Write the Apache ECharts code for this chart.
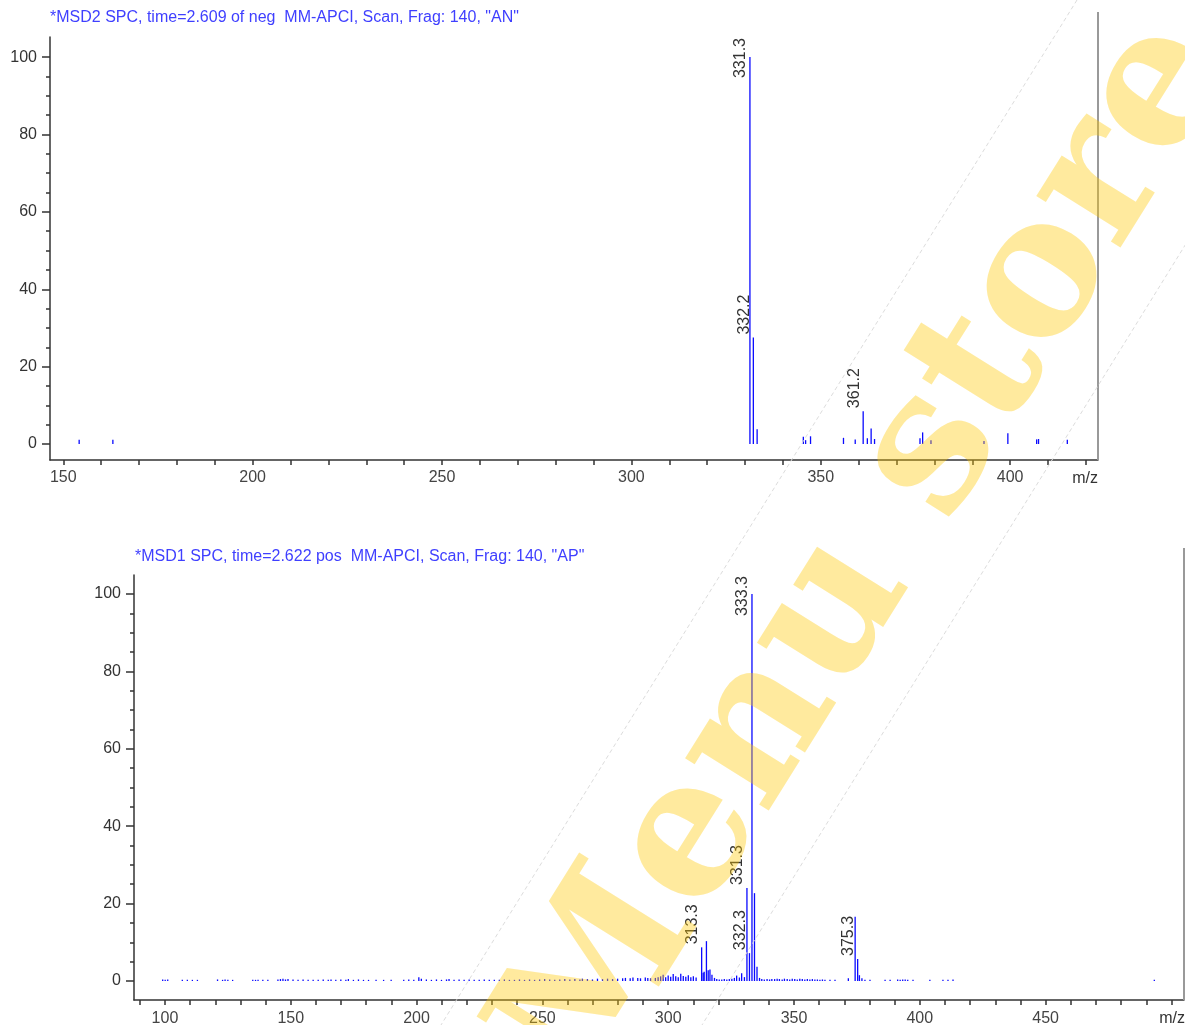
<!DOCTYPE html>
<html>
<head>
<meta charset="utf-8">
<script src="https://cdn.jsdelivr.net/npm/echarts@6/dist/echarts.min.js"></script>
<style>
html,body{margin:0;padding:0;background:#fff;}
#chart{width:1185px;height:1025px;}
</style>
</head>
<body>
<div id="chart"></div>
<script>
// ---------- Data: top spectrum (negative, MSD2) ----------
const topTitle = '*MSD2 SPC, time=2.609 of neg  MM-APCI, Scan, Frag: 140, "AN"';
const topMz    = [154.2, 163.1, 331.3, 332.2, 333.2, 345.4, 346.0, 347.3, 356.0, 359.1, 361.2, 362.3, 363.3, 364.2, 376.2, 376.9, 379.1, 393.1, 399.4, 407.0, 407.5, 415.1];
const topAbund = [1.1,   1.1,   100,   27.5,  3.8,   1.9,   1.0,   2.0,   1.6,   1.2,   8.5,   1.5,   4.0,   1.3,   1.5,   3.0,   1.0,   0.8,   2.8,   1.2,   1.3,   1.1];
const topLabeled = [331.3, 332.2, 361.2];
const topLabelText = ['331.3', '332.2', '361.2'];
const topXTicks  = [150,160,170,180,190,200,210,220,230,240,250,260,270,280,290,300,310,320,330,340,350,360,370,380,390,400,410,420];
const topXLabels = [150,200,250,300,350,400];
const topYLabels = [0,20,40,60,80,100];
const topYMinor  = [5,10,15,25,30,35,45,50,55,65,70,75,85,90,95];

// ---------- Data: bottom spectrum (positive, MSD1) ----------
const botTitle = '*MSD1 SPC, time=2.622 pos  MM-APCI, Scan, Frag: 140, "AP"';
const botMz = [
  99.1,100.1,101.1,106.9,108.9,110.9,112.9,120.9,122.9,123.9,125.0,126.9,134.9,136.0,137.0,138.9,140.9,
  144.9,145.9,146.9,147.9,148.9,150.9,152.9,154.9,156.9,158.9,160.9,162.9,164.9,166.0,167.9,169.9,171.9,172.9,174.9,176.9,178.9,180.9,183.9,186.9,189.9,
  194.9,196.9,198.9,200.9,201.9,203.9,205.9,207.9,209.9,211.9,212.9,214.9,216.9,218.9,220.9,222.9,224.9,226.9,228.9,230.9,
  232.9,234.9,236.9,238.9,240.9,242.9,244.9,246.9,248.9,250.9,252.9,254.9,256.9,258.9,260.9,262.9,264.9,265.9,267.9,269.9,271.9,273.9,275.9,277.9,279.9,
  281.9,283.0,284.9,286.0,287.9,289.0,290.9,291.9,293.0,294.9,
  296.0,297.0,298.0,299.0,300.0,301.0,302.0,303.0,304.0,305.0,306.0,307.0,308.0,309.0,310.0,311.1,
  313.3,313.9,314.3,315.2,315.9,316.6,317.4,318.4,319.3,320.3,321.3,322.3,323.3,324.3,325.3,326.3,327.2,328.3,329.2,330.3,
  331.3,332.3,333.3,334.3,335.3,336.3,337.2,338.2,339.3,340.3,341.2,342.3,343.3,344.2,345.3,346.2,347.3,348.3,349.3,350.3,
  351.3,352.3,353.3,354.3,355.3,356.3,357.3,358.3,359.3,360.3,361.3,362.3,364.3,366.3,
  371.6,374.3,375.3,376.0,377.0,378.2,380.2,386.2,388.2,391.2,392.2,393.2,394.2,395.2,397.3,404.0,409.2,411.2,413.2,493.2
];
const botAbund = [
  0.4,0.3,0.4,0.3,0.3,0.3,0.3,0.4,0.3,0.4,0.3,0.3,0.3,0.3,0.3,0.3,0.3,
  0.4,0.5,0.6,0.4,0.5,0.4,0.3,0.4,0.3,0.3,0.3,0.4,0.3,0.4,0.3,0.4,0.3,0.5,0.3,0.4,0.3,0.3,0.3,0.3,0.3,
  0.3,0.4,0.3,1.0,0.6,0.4,0.3,0.4,0.3,0.4,0.5,0.3,0.4,0.3,0.4,0.3,0.3,0.4,0.3,0.3,
  0.3,0.4,0.3,0.3,0.4,0.3,0.4,0.3,0.4,0.5,0.4,0.3,0.4,0.5,0.4,0.5,0.4,0.6,0.5,0.4,0.6,0.5,0.6,0.5,0.6,
  0.7,0.8,0.7,0.9,0.8,0.7,0.9,0.8,0.7,0.8,
  1.0,1.2,1.6,1.0,1.4,1.1,1.8,1.2,1.0,1.9,1.3,1.1,1.5,1.0,1.2,0.9,
  8.7,2.1,2.4,10.3,2.8,3.0,1.6,0.8,0.5,0.4,0.4,0.5,0.4,0.5,0.6,0.8,1.4,0.9,2.0,1.0,
  24.0,7.2,100,22.7,3.7,0.8,0.5,0.4,0.5,0.4,0.5,0.5,0.6,0.5,0.4,0.6,0.5,0.4,0.6,0.5,
  0.4,0.6,0.5,0.4,0.5,0.4,0.5,0.4,0.4,0.3,0.4,0.3,0.3,0.3,
  0.7,16.6,5.7,1.5,0.7,0.3,0.3,0.3,0.3,0.4,0.3,0.4,0.4,0.3,0.3,0.3,0.3,0.3,0.4,0.3
];
const botLabeled = [313.3, 331.3, 332.3, 333.3, 375.3];
const botLabelText = ['313.3', '331.3', '332.3', '333.3', '375.3'];
const botXTicks  = [90,100,110,120,130,140,150,160,170,180,190,200,210,220,230,240,250,260,270,280,290,300,310,320,330,340,350,360,370,380,390,400,410,420,430,440,450,460,470,480,490,500];
const botXLabels = [100,150,200,250,300,350,400,450];
const botYLabels = [0,20,40,60,80,100];
const botYMinor  = [5,10,15,25,30,35,45,50,55,65,70,75,85,90,95];

const watermarkText = 'Menu store';
const axisName = 'm/z';

// ---------- helpers ----------
const FONT = '"Liberation Sans", Arial, Helvetica, sans-serif';
const FS = 16;
const STICK = '#0a0aff';
const measureCtx = document.createElement('canvas').getContext('2d');
measureCtx.font = FS + 'px ' + FONT;

function pairs(xs, ys) { return xs.map((x, i) => [x, ys[i]]); }
function labelPairs(lx, lt, xs, ys) {
  return lx.map((m, i) => {
    const k = xs.indexOf(m);
    return [m, ys[k], lt[i]];
  });
}

function stickRender(params, api) {
  const x = api.value(0), y = api.value(1);
  const b = api.coord([x, 0]);
  const t = api.coord([x, y]);
  return {
    type: 'line',
    shape: { x1: b[0], y1: b[1], x2: t[0], y2: t[1] },
    style: { stroke: STICK, lineWidth: 1.3 }
  };
}
function labelRender(params, api) {
  const x = api.value(0), y = api.value(1);
  const txt = params.data ? params.data[2] : String(x);
  const t = api.coord([x, y]);
  const w = measureCtx.measureText(txt).width;
  const top = params.coordSys.y;
  const anchorY = Math.max(t[1] - 3, top + w + 1);
  return {
    type: 'text',
    x: t[0] - 1,
    y: anchorY,
    rotation: Math.PI / 2,
    style: {
      text: txt, fill: '#333', font: FS + 'px ' + FONT,
      align: 'left', verticalAlign: 'bottom'
    }
  };
}

function xAxisDef(gridIndex, min, max, ticks, labels, nameGap, margin, namePad) {
  return {
    type: 'value', gridIndex, min, max,
    name: axisName, nameLocation: 'end', nameGap,
    nameTextStyle: { color: '#333', fontSize: FS, fontFamily: FONT, align: 'right', verticalAlign: 'top', padding: [namePad, 0, 0, 0] },
    splitLine: { show: false },
    axisLine: { onZero: false, lineStyle: { color: '#333', width: 1.5 } },
    axisTick: { customValues: ticks, length: 5, lineStyle: { color: '#333', width: 1.5 } },
    axisLabel: { customValues: labels, color: '#444', fontSize: FS, fontFamily: FONT, margin }
  };
}
function yAxisMajor(gridIndex, min, max, labels, margin) {
  return {
    type: 'value', gridIndex, min, max, position: 'left',
    splitLine: { show: false },
    axisLine: { onZero: false, lineStyle: { color: '#333', width: 1.5 } },
    axisTick: { customValues: labels, length: 8, lineStyle: { color: '#333', width: 1.5 } },
    axisLabel: { customValues: labels, color: '#333', fontSize: FS, fontFamily: FONT, margin }
  };
}
function yAxisMinor(gridIndex, min, max, minor) {
  return {
    type: 'value', gridIndex, min, max, position: 'left',
    splitLine: { show: false },
    axisLine: { show: false, onZero: false },
    axisTick: { customValues: minor, length: 4, lineStyle: { color: '#333', width: 1.5 } },
    axisLabel: { show: false, customValues: minor }
  };
}

const chart = echarts.init(document.getElementById('chart'), null, { renderer: 'canvas' });
chart.setOption({
  animation: false,
  backgroundColor: '#fff',
  title: [
    { text: topTitle, left: 50, top: 10, padding: 0, textStyle: { color: '#3f3fff', fontSize: FS, fontWeight: 'normal', fontFamily: FONT } },
    { text: botTitle, left: 135, top: 549, padding: 0, textStyle: { color: '#3f3fff', fontSize: FS, fontWeight: 'normal', fontFamily: FONT } }
  ],
  grid: [
    { left: 50, top: 37, width: 1048, height: 423, outerBoundsMode: 'none', containLabel: false },
    { left: 134, top: 575, width: 1050, height: 425, outerBoundsMode: 'none', containLabel: false }
  ],
  xAxis: [
    xAxisDef(0, 146.5, 423.2, topXTicks, topXLabels, 0, 10, 11),
    xAxisDef(1, 87.7, 505.0, botXTicks, botXLabels, 1, 11, 11)
  ],
  yAxis: [
    yAxisMajor(0, -4.13, 105.2, topYLabels, 13),
    yAxisMinor(0, -4.13, 105.2, topYMinor),
    yAxisMajor(1, -4.91, 104.91, botYLabels, 13),
    yAxisMinor(1, -4.91, 104.91, botYMinor)
  ],
  series: [
    { type: 'custom', name: 'neg', xAxisIndex: 0, yAxisIndex: 0, renderItem: stickRender, data: pairs(topMz, topAbund) },
    { type: 'custom', name: 'negLabels', xAxisIndex: 0, yAxisIndex: 0, renderItem: labelRender, data: labelPairs(topLabeled, topLabelText, topMz, topAbund), z: 3 },
    { type: 'custom', name: 'pos', xAxisIndex: 1, yAxisIndex: 2, renderItem: stickRender, data: pairs(botMz, botAbund) },
    { type: 'custom', name: 'posLabels', xAxisIndex: 1, yAxisIndex: 2, renderItem: labelRender, data: labelPairs(botLabeled, botLabelText, botMz, botAbund), z: 3 }
  ],
  graphic: [
    { type: 'line', z: 50, shape: { x1: 1098, y1: 12, x2: 1098, y2: 460 }, style: { stroke: '#999', lineWidth: 2 } },
    { type: 'line', z: 50, shape: { x1: 1184, y1: 548, x2: 1184, y2: 1000 }, style: { stroke: '#999', lineWidth: 2 } },
    { type: 'line', z: 60, shape: { x1: 1077, y1: 0, x2: 441, y2: 1025 }, style: { stroke: '#dcdcdc', lineWidth: 1, lineDash: [4, 3] } },
    { type: 'line', z: 60, shape: { x1: 1337, y1: 0, x2: 702, y2: 1025 }, style: { stroke: '#dcdcdc', lineWidth: 1, lineDash: [4, 3] } },
    {
      type: 'text', z: 100, x: 870, y: 555, rotation: 58 * Math.PI / 180,
      style: {
        text: watermarkText,
        fontFamily: 'DejaVu Serif', fontWeight: 'bold', fontSize: 190,
        fill: 'rgba(255,200,0,0.38)', align: 'center', verticalAlign: 'middle'
      }
    }
  ]
});
</script>
</body>
</html>
